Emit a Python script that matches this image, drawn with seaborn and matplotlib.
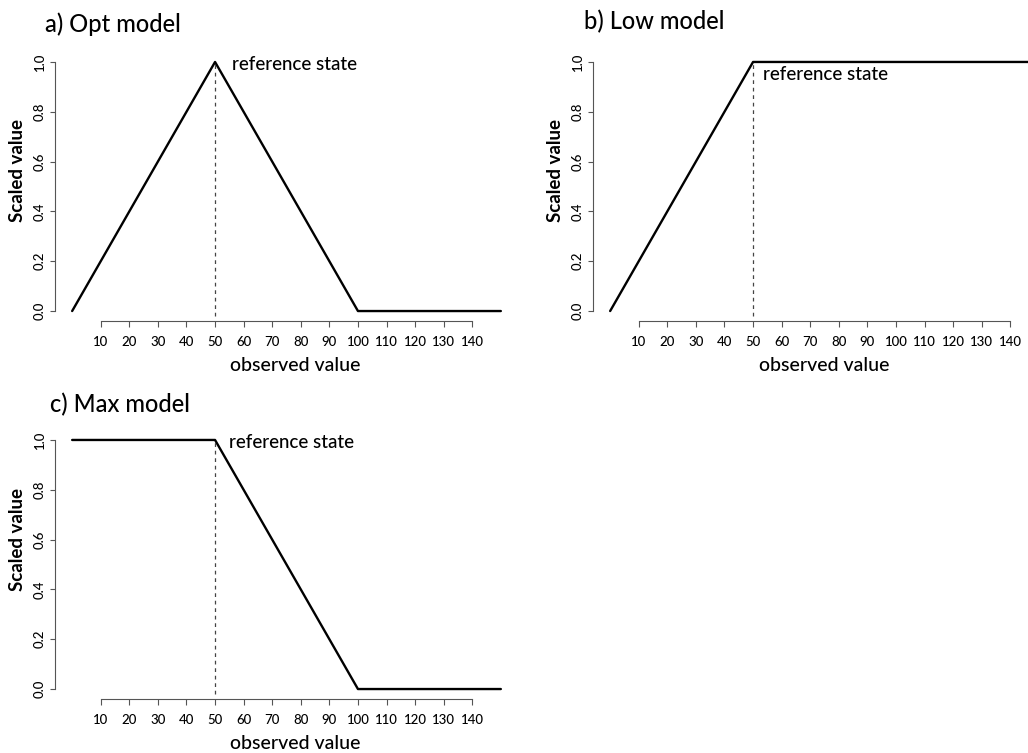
import matplotlib
matplotlib.use("Agg")
import matplotlib.pyplot as plt
import seaborn as sns
import pandas as pd

# Breakpoints of the piecewise-linear scoring functions
observed = [0, 50, 100, 150]
opt_scaled = [0.0, 1.0, 0.0, 0.0]
low_scaled = [0.0, 1.0, 1.0, 1.0]
max_scaled = [1.0, 1.0, 0.0, 0.0]

reference_value = 50
x_ticks = list(range(10, 150, 10))
y_ticks = [0.0, 0.2, 0.4, 0.6, 0.8, 1.0]
y_tick_labels = ["0.0", "0.2", "0.4", "0.6", "0.8", "1.0"]

titles = ["a) Opt model", "b) Low model", "c) Max model"]
x_label = "observed value"
y_label = "Scaled value"
ref_label = "reference state"

sns.set_style("white")
plt.rcParams["font.family"] = ["Lato", "DejaVu Sans"]
plt.rcParams.update({
    "text.color": "black",
    "axes.labelcolor": "black",
    "xtick.labelcolor": "black",
    "ytick.labelcolor": "black",
})

W, H = 1028, 753
fig = plt.figure(figsize=(W / 100, H / 100), dpi=100)


def px_box(left, top, right, bottom):
    return [left / W, 1 - bottom / H, (right - left) / W, (bottom - top) / H]


panels = [
    dict(box=px_box(55, 52, 518, 321), y=opt_scaled, title=titles[0],
         title_xy=(45, 32), ref_xy=(56, 0.968), ylab_y=0.561, xlab_xy=(0.518, -0.134)),
    dict(box=px_box(593, 52, 1056, 321), y=low_scaled, title=titles[1],
         title_xy=(584, 29), ref_xy=(53.5, 0.928), ylab_y=0.561, xlab_xy=(0.50, -0.134)),
    dict(box=px_box(55, 430, 518, 699), y=max_scaled, title=titles[2],
         title_xy=(50, 412), ref_xy=(55, 0.968), ylab_y=0.593, xlab_xy=(0.518, -0.134)),
]

axis_grey = "#555555"
text_weight = "medium"

for p in panels:
    ax = fig.add_axes(p["box"])
    df = pd.DataFrame({"observed": observed, "scaled": p["y"]})
    sns.lineplot(data=df, x="observed", y="scaled", ax=ax, color="black",
                 linewidth=1.7, estimator=None, sort=False)
    # dashed marker of the reference state
    ax.plot([reference_value, reference_value], [-0.02, 1.0], color="#444444",
            linestyle=(0, (3, 3)), linewidth=0.9, zorder=1)
    ax.text(p["ref_xy"][0], p["ref_xy"][1], ref_label, fontsize=13.5,
            fontweight=text_weight, ha="left", va="baseline", color="black")

    ax.set_xlim(-6, 156)
    ax.set_ylim(-0.04, 1.04)
    ax.set_xticks(x_ticks)
    ax.set_xticklabels([str(t) for t in x_ticks], fontsize=9.5,
                       fontweight=text_weight)
    ax.set_yticks(y_ticks)
    ax.set_yticklabels(y_tick_labels, fontsize=9.5, rotation=90, va="center",
                       fontweight=text_weight)

    for side in ["top", "right"]:
        ax.spines[side].set_visible(False)
    ax.spines["left"].set_bounds(0, 1)
    ax.spines["bottom"].set_bounds(10, 140)
    for side in ["left", "bottom"]:
        ax.spines[side].set_color(axis_grey)
        ax.spines[side].set_linewidth(0.8)
    ax.tick_params(axis="x", direction="out", length=4.5, width=0.8,
                   color=axis_grey, pad=6, bottom=True)
    ax.tick_params(axis="y", direction="out", length=3.5, width=0.8,
                   color=axis_grey, pad=3, left=True)

    ax.set_xlabel(x_label, fontsize=14, fontweight=text_weight)
    ax.set_ylabel(y_label, fontsize=13.5, fontweight="bold")
    ax.xaxis.set_label_coords(*p["xlab_xy"])
    ax.yaxis.set_label_coords(-0.063, p["ylab_y"])
    ax.patch.set_alpha(0)

    fig.text(p["title_xy"][0] / W, 1 - p["title_xy"][1] / H, p["title"],
             fontsize=17, fontweight=text_weight, ha="left", va="baseline")

fig.savefig("out.png", dpi=100)
